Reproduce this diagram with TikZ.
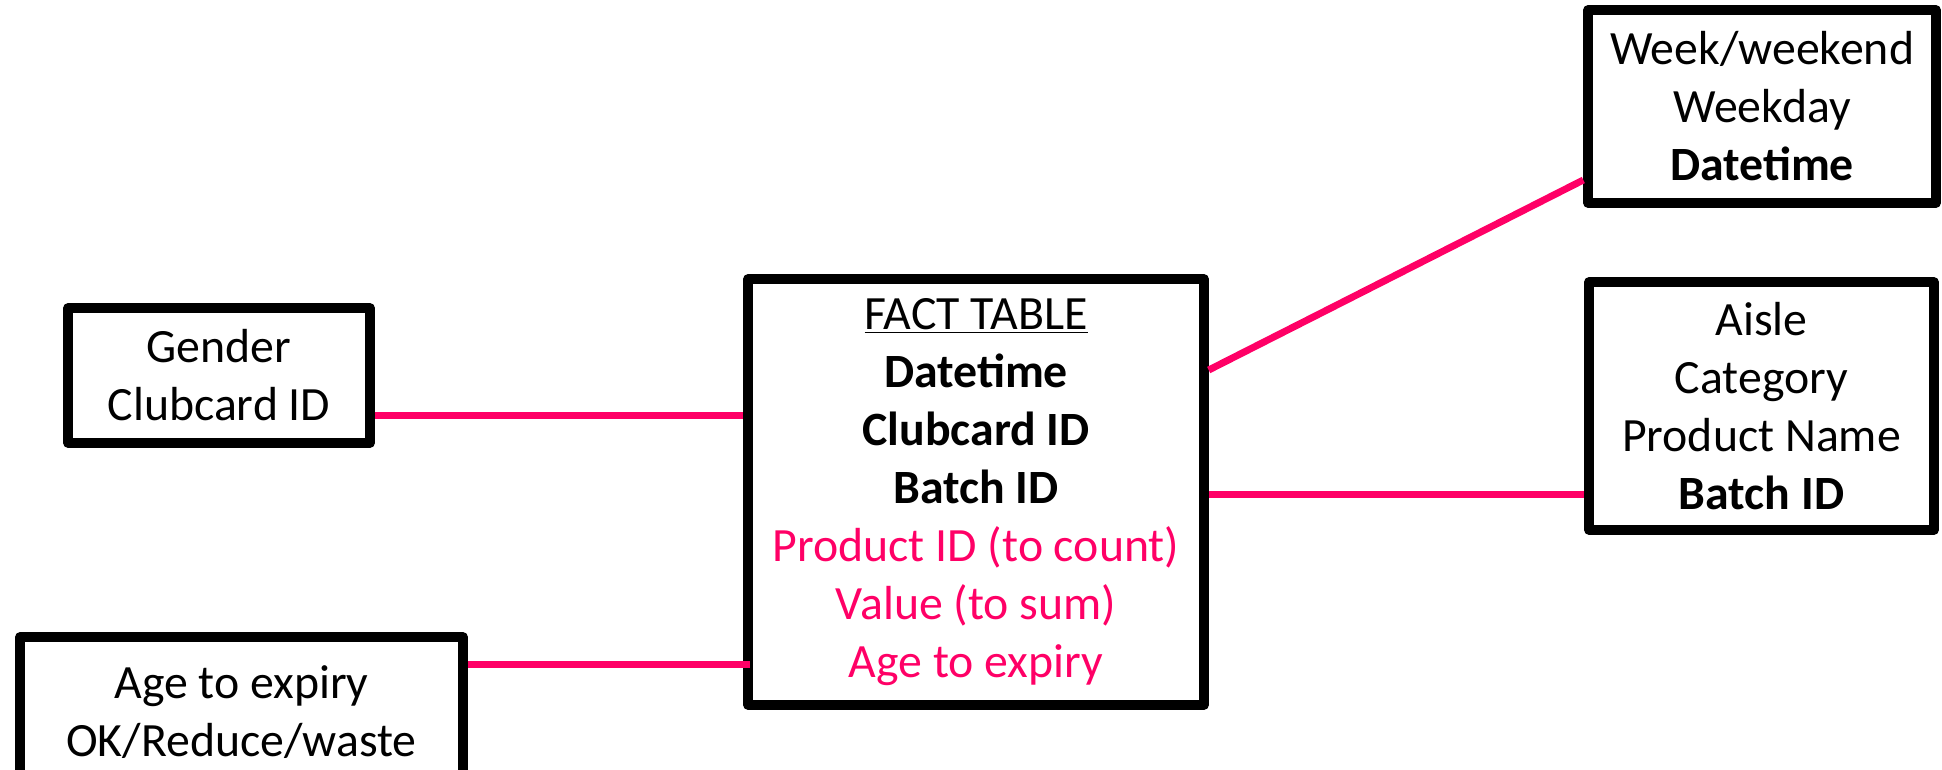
\documentclass[tikz,border=0pt]{standalone}
\usepackage{fontspec}
\setmainfont{Carlito}
\definecolor{keypink}{HTML}{FF0066}

\begin{document}
\begin{tikzpicture}[x=0.02cm,y=-0.02cm,
    every node/.style={font=\fontsize{27.2}{33}\selectfont, align=center},
    dimbox/.style={draw, line width=0.19cm, inner sep=0pt, line join=round},
    link/.style={draw=keypink, line width=0.14cm}]
      \useasboundingbox (0,0) rectangle (1942,769);
      \clip (0,0) rectangle (1942,769);
      % the fact table and its dimensions
      \node[dimbox, minimum width=9.12cm, minimum height=8.52cm] (fact) at (976,492)
        {\underline{FACT TABLE}\\ \textbf{Datetime}\\ \textbf{Clubcard ID}\\ \textbf{Batch ID}\\
         \textcolor{keypink}{Product ID (to count)}\\ \textcolor{keypink}{Value (to sum)}\\
         \textcolor{keypink}{Age to expiry}};
      \node[dimbox, minimum width=6.04cm, minimum height=2.7cm] (gender) at (219,375.5)
        {Gender\\ Clubcard ID};
      \node[dimbox, minimum width=8.86cm, minimum height=3.0cm] (age) at (241.5,712)
        {Age to expiry\\ OK/Reduce/waste};
      \node[dimbox, minimum width=6.96cm, minimum height=3.86cm] (week) at (1762,106.5)
        {Week/weekend\\ Weekday\\ \textbf{Datetime}};
      \node[dimbox, minimum width=6.9cm, minimum height=4.96cm] (aisle) at (1761.5,406)
        {Aisle\\ Category\\ Product Name\\ \textbf{Batch ID}};
      % joins
      \draw[link] (gender.east |- 0,415) -- (fact.west |- 0,415);
      \draw[link] (age.east |- 0,664) -- ([xshift=0.14cm]fact.west |- 0,664);
      \draw[link] (fact.east |- 0,370) -- (week.west |- 0,180);
      \draw[link] (fact.east |- 0,494) -- (aisle.west |- 0,494);
    \end{tikzpicture}
\end{document}
